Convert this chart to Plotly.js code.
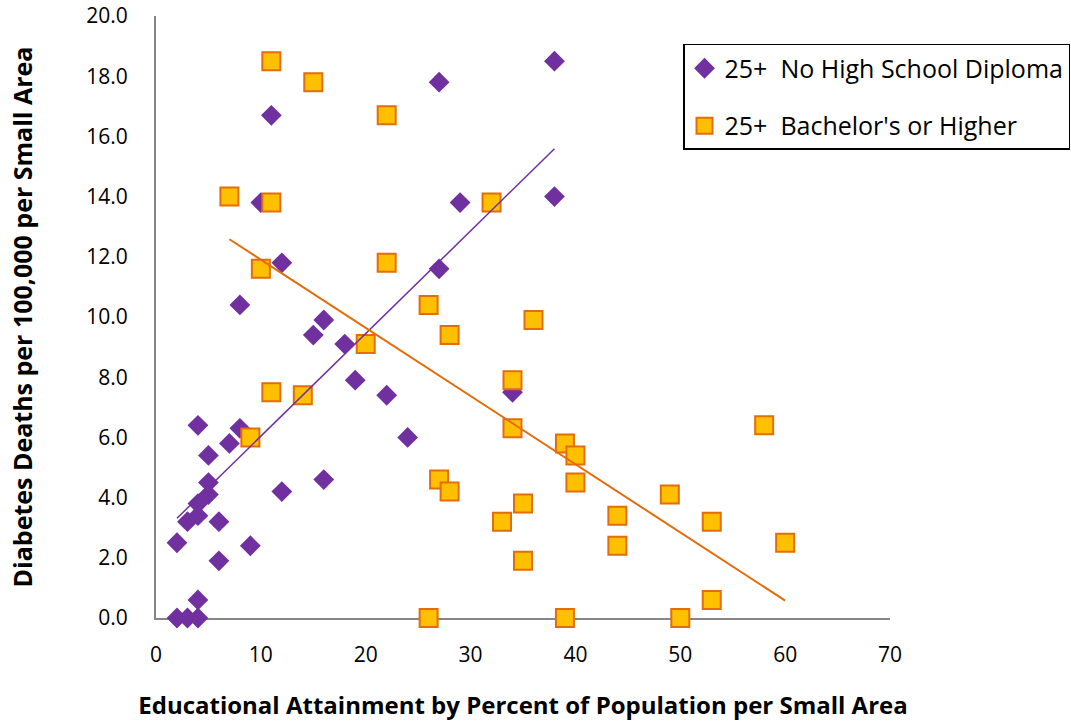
<!DOCTYPE html>
<html>
<head>
<meta charset="utf-8">
<script src="https://cdn.plot.ly/plotly-3.0.1.min.js"></script>
<style>
  html, body { margin: 0; padding: 0; background: #ffffff; }
  #chart { width: 1071px; height: 721px; }
</style>
</head>
<body>
<div id="chart"></div>
<script>
// Percent of adults 25+ without a high school diploma, and diabetes death rate
const noDiplomaPct = [2, 3, 4, 4, 2, 6, 9, 3, 4, 6, 4, 5, 5, 5, 7, 8, 4, 12, 16, 24,
                      22, 19, 18, 15, 16, 8, 12, 27, 10, 29, 38, 11, 27, 38, 34];
const noDiplomaRate = [0.0, 0.0, 0.0, 0.6, 2.5, 1.9, 2.4, 3.2, 3.4, 3.2, 3.8, 4.1, 4.5, 5.4, 5.8, 6.3, 6.4, 4.2, 4.6, 6.0,
                       7.4, 7.9, 9.1, 9.4, 9.9, 10.4, 11.8, 11.6, 13.8, 13.8, 14.0, 16.7, 17.8, 18.5, 7.5];

// Percent of adults 25+ holding a bachelor's degree or higher, and diabetes death rate
const bachelorPct = [11, 15, 22, 7, 11, 32, 10, 22, 26, 36, 28, 20, 34, 11, 14, 34, 9, 58, 39, 40,
                     27, 40, 28, 49, 35, 44, 33, 53, 44, 60, 35, 53, 26, 39, 50];
const bachelorRate = [18.5, 17.8, 16.7, 14.0, 13.8, 13.8, 11.6, 11.8, 10.4, 9.9, 9.4, 9.1, 7.9, 7.5, 7.4, 6.3, 6.0, 6.4, 5.8, 5.4,
                      4.6, 4.5, 4.2, 4.1, 3.8, 3.4, 3.2, 3.2, 2.4, 2.5, 1.9, 0.6, 0.0, 0.0, 0.0];

const seriesNames = ["25+  No High School Diploma", "25+  Bachelor's or Higher"];

const PURPLE = '#7030A0';
const GOLD = '#FFC000';
const ORANGE = '#E46C0A';
const FONT = 'Open Sans, Noto Sans, sans-serif';

// Ordinary least-squares fit, drawn across the range of the data
function linearFit(xs, ys) {
  const n = xs.length;
  let sx = 0, sy = 0, sxx = 0, sxy = 0;
  for (let i = 0; i < n; i++) {
    sx += xs[i]; sy += ys[i]; sxx += xs[i] * xs[i]; sxy += xs[i] * ys[i];
  }
  const slope = (n * sxy - sx * sy) / (n * sxx - sx * sx);
  const icpt = (sy - slope * sx) / n;
  const x0 = Math.min(...xs), x1 = Math.max(...xs);
  return { x: [x0, x1], y: [icpt + slope * x0, icpt + slope * x1] };
}

const fitNoDiploma = linearFit(noDiplomaPct, noDiplomaRate);
const fitBachelor = linearFit(bachelorPct, bachelorRate);

const traces = [
  {
    type: 'scatter', mode: 'markers', name: seriesNames[0], legendgroup: 'a',
    x: noDiplomaPct, y: noDiplomaRate, cliponaxis: false,
    marker: { symbol: 'diamond', size: 16, color: PURPLE, line: { width: 0 } }
  },
  {
    type: 'scatter', mode: 'markers', name: seriesNames[1], legendgroup: 'b',
    x: bachelorPct, y: bachelorRate, cliponaxis: false,
    marker: { symbol: 'square', size: 18, color: GOLD, line: { width: 2, color: ORANGE } }
  },
  {
    type: 'scatter', mode: 'lines', showlegend: false, hoverinfo: 'skip',
    x: fitNoDiploma.x, y: fitNoDiploma.y, line: { color: PURPLE, width: 1.5 }
  },
  {
    type: 'scatter', mode: 'lines', showlegend: false, hoverinfo: 'skip',
    x: fitBachelor.x, y: fitBachelor.y, line: { color: ORANGE, width: 2 }
  }
];

const layout = {
  width: 1071, height: 721,
  margin: { l: 156, r: 181, t: 16, b: 103, autoexpand: false },
  paper_bgcolor: '#ffffff', plot_bgcolor: '#ffffff',
  font: { family: FONT, size: 22, color: '#000000' },
  showlegend: true,
  legend: {
    x: 0.718, y: 0.9535, xanchor: 'left', yanchor: 'top',
    bordercolor: '#000000', borderwidth: 1.5, bgcolor: '#ffffff',
    traceorder: 'grouped', tracegroupgap: 22,
    font: { family: FONT, size: 25, color: '#000000' }
  },
  xaxis: {
    range: [0, 70], dtick: 10, tick0: 0,
    showgrid: false, zeroline: false,
    showline: true, linecolor: '#868686', linewidth: 2,
    ticks: '', ticklabelstandoff: 17, layer: 'below traces',
    tickfont: { family: FONT, size: 21, color: '#000000' },
    title: { text: 'Educational Attainment by Percent of Population per Small Area',
             font: { family: FONT, size: 24, color: '#000000', weight: 'bold' }, standoff: 32 },
    automargin: false
  },
  yaxis: {
    range: [0, 20], dtick: 2, tick0: 0, tickformat: '.1f',
    showgrid: false, zeroline: false,
    showline: true, linecolor: '#868686', linewidth: 2,
    ticks: '', ticklabelstandoff: 22, layer: 'below traces',
    tickfont: { family: FONT, size: 21, color: '#000000' },
    title: { text: 'Diabetes Deaths per 100,000 per Small Area',
             font: { family: FONT, size: 25, color: '#000000', weight: 'bold' }, standoff: 47 },
    automargin: false
  }
};

Plotly.newPlot('chart', traces, layout, { displayModeBar: false, staticPlot: true });
</script>
</body>
</html>
